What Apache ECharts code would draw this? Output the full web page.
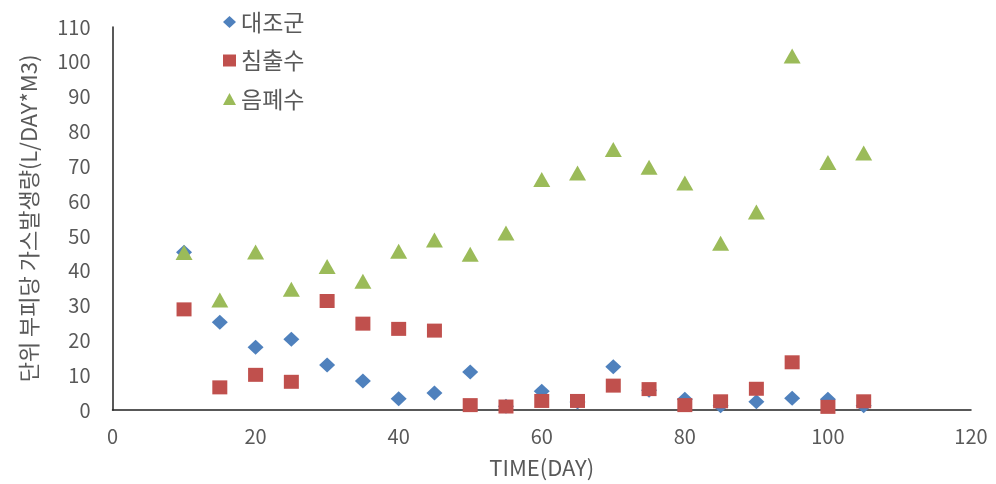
<!DOCTYPE html>
<html>
<head>
<meta charset="utf-8">
<script src="https://cdn.jsdelivr.net/npm/echarts@6/dist/echarts.min.js"></script>
<style>html,body{margin:0;padding:0;background:#fff}#c{width:996px;height:484px}</style>
</head>
<body>
<div id="c"></div>
<script>
var days = [10,15,20,25,30,35,40,45,50,55,60,65,70,75,80,85,90,95,100,105];
var seriesNames = ['대조군','침출수','음폐수'];
var control = [45.3,25.2,18.0,20.3,12.9,8.3,3.2,4.9,10.9,1.1,5.4,2.3,12.4,5.7,3.1,1.2,2.4,3.4,3.1,1.2];
var leachate = [28.9,6.5,10.1,8.1,31.3,24.8,23.3,22.8,1.4,1.0,2.6,2.6,7.0,6.0,1.4,2.5,6.1,13.7,0.9,2.5];
var foodWaste = [45.2,31.6,45.4,34.7,41.2,37.0,45.6,48.8,44.7,50.8,66.2,68.1,74.8,69.7,65.2,47.9,56.9,101.7,71.1,73.8];
var xTicks = {min:0, max:120, interval:20};
var yTicks = {min:0, max:110, interval:10};
var xTitle = 'TIME(DAY)';
var yTitle = '단위 부피당 가스발생량(L/DAY*M3)';

function pairs(ys){ return days.map(function(d,i){ return [d, ys[i]]; }); }

var FONT = "'Noto Sans CJK KR', 'Noto Sans', sans-serif";
var chart = echarts.init(document.getElementById('c'));
chart.setOption({
  animation:false,
  textStyle:{fontFamily:FONT},
  grid:{left:112.5, right:25, top:27, bottom:73, containLabel:false},
  legend:{
    orient:'vertical', left:218, top:5, itemGap:14.5, itemWidth:13, itemHeight:12,
    textStyle:{fontSize:23, color:'#595959', fontFamily:FONT, lineHeight:24},
    data:[{name:seriesNames[0], icon:'diamond'},{name:seriesNames[1], icon:'rect'},{name:seriesNames[2], icon:'triangle'}]
  },
  xAxis:{
    type:'value', min:xTicks.min, max:xTicks.max, interval:xTicks.interval,
    name:xTitle, nameLocation:'middle', nameGap:47,
    nameTextStyle:{fontSize:22, color:'#595959', fontFamily:FONT},
    axisLine:{lineStyle:{color:'#222', width:1.5}},
    axisTick:{show:false}, splitLine:{show:false},
    axisLabel:{fontSize:20, color:'#595959', margin:16, fontFamily:FONT}
  },
  yAxis:{
    type:'value', min:yTicks.min, max:yTicks.max, interval:yTicks.interval,
    name:yTitle, nameLocation:'middle', nameGap:73, nameRotate:90,
    nameTextStyle:{fontSize:22, color:'#595959', fontFamily:FONT},
    axisLine:{show:true, lineStyle:{color:'#222', width:1.5}},
    axisTick:{show:false}, splitLine:{show:false},
    axisLabel:{fontSize:20, color:'#595959', margin:22, fontFamily:FONT}
  },
  series:[
    {name:seriesNames[0], type:'scatter', symbol:'diamond', symbolSize:[16,15], itemStyle:{color:'#4F81BD', opacity:1}, data:pairs(control), z:2},
    {name:seriesNames[1], type:'scatter', symbol:'rect', symbolSize:[15,14], itemStyle:{color:'#C0504D', opacity:1}, data:pairs(leachate), z:3},
    {name:seriesNames[2], type:'scatter', symbol:'triangle', symbolSize:[17,15], itemStyle:{color:'#9BBB59', opacity:1}, data:pairs(foodWaste), z:4}
  ]
});
</script>
</body>
</html>
